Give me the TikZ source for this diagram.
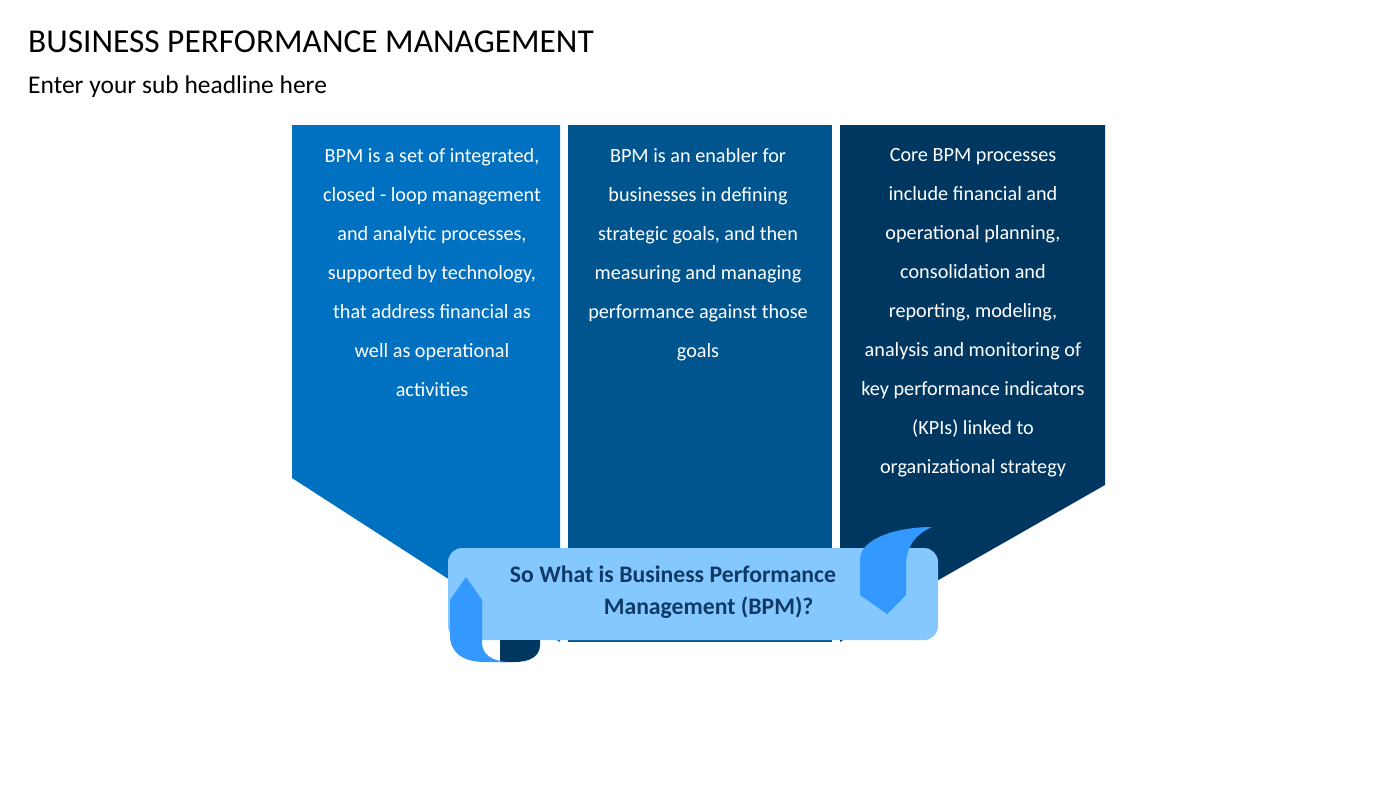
\documentclass[tikz,border=0pt]{standalone}
\usepackage{fontspec}
\setmainfont{Carlito}
\definecolor{bpmone}{HTML}{0070C0}
\definecolor{bpmtwo}{HTML}{00558F}
\definecolor{bpmthree}{HTML}{003761}
\definecolor{bannerlight}{HTML}{84C8FF}
\definecolor{curlblue}{HTML}{3399FF}
\definecolor{bannertext}{HTML}{0F3A66}
\tikzset{
   paneltext/.style={text=white, align=center, anchor=north, font=\fontsize{11.5}{22.2}\selectfont},
   heading/.style={anchor=west, text=black}
}
\begin{document}
\begin{tikzpicture}[x=0.02cm, y=-0.02cm]
      \useasboundingbox (0,0) rectangle (1400,788);

      \node[heading, font=\fontsize{19}{22}\selectfont] (title) at (22,42) {BUSINESS PERFORMANCE MANAGEMENT};
      \node[heading, font=\fontsize{14.5}{18}\selectfont] (sub) at (22,87) {Enter your sub headline here};

      % three panels
      \fill[bpmtwo] (568,125) rectangle (832,642);
      \fill[bpmone] (292,125) -- (560,125) -- (560,642) -- (450,580) -- (292,478) -- cycle;
      \fill[bpmthree] (840,125) -- (1105,125) -- (1105,485) -- (935,582) -- (840,642) -- cycle;

      \node[paneltext] (t1) at (432,142) {BPM is a set of integrated,\\closed - loop management\\and analytic processes,\\supported by technology,\\that address financial as\\well as operational\\activities};
      \node[paneltext] (t2) at (698,142) {BPM is an enabler for\\businesses in defining\\strategic goals, and then\\measuring and managing\\performance against those\\goals};
      \node[paneltext] (t3) at (973,142) {Core BPM processes\\include financial and\\operational planning,\\consolidation and\\reporting, modeling,\\analysis and monitoring of\\key performance indicators\\(KPIs) linked to\\organizational strategy};

      % banner
      \fill[bannerlight, rounded corners=8] (448,548) rectangle (938,640);
      \fill[bpmthree] (500,640) -- (540,640) -- (540,645) .. controls (540,656) and (530,662) .. (515,662) -- (500,662) -- cycle;
      \fill[curlblue] (450,600) -- (466,577) -- (482,600) -- (482,642) .. controls (482,655) and (492,661) .. (508,662) -- (485,662) .. controls (462,662) and (450,652) .. (450,635) -- cycle;
      \fill[curlblue] (860,595) -- (860,560) .. controls (860,537) and (900,527) .. (932,527) .. controls (914,535) and (906,548) .. (906,566) -- (906,595) -- (887,614) -- cycle;
      \node[text=bannertext, align=center, font=\bfseries\fontsize{13.5}{18.5}\selectfont] (q) at (673,592) {So What is Business Performance\\\hspace*{3em}Management (BPM)?};
\end{tikzpicture}
\end{document}
